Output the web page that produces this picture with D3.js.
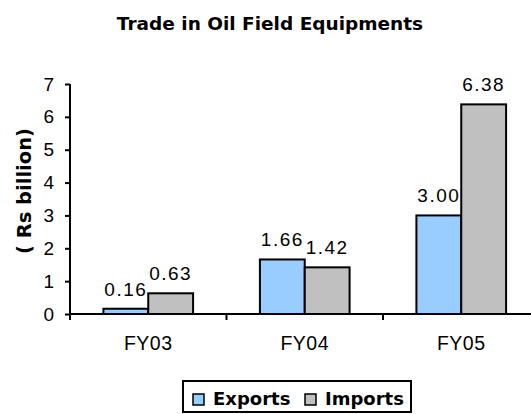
<!DOCTYPE html>
<html>
<head>
<meta charset="utf-8">
<script src="https://cdn.jsdelivr.net/npm/d3@7"></script>
<style>
  html, body { margin: 0; padding: 0; background: #fff; }
  svg { display: block; font-family: "Liberation Sans", Arial, sans-serif; }
</style>
</head>
<body>
<div id="chart"></div>
<script>
/* Trade in Oil Field Equipments — grouped bars, exports vs imports. */

var years = ["FY03", "FY04", "FY05"];
var seriesNames = ["Exports", "Imports"];
var exportsVals = [0.16, 1.66, 3.00];
var importsVals = [0.63, 1.42, 6.38];
var yTicks = [0, 1, 2, 3, 4, 5, 6, 7];

var fills = { Exports: "#99ccff", Imports: "#c0c0c0" };

var width = 531, height = 414;
var margin = { top: 84, left: 70 };
var innerH = 230, bandW = 156.5;

var rows = years.map(function (y, i) {
  return { year: y, Exports: exportsVals[i], Imports: importsVals[i] };
});

var svg = d3.select("#chart").append("svg")
  .attr("width", width).attr("height", height);

svg.append("text")
  .attr("x", 270).attr("y", 30)
  .attr("text-anchor", "middle")
  .attr("font-family", "DejaVu Sans, Verdana, sans-serif")
  .attr("font-size", 18.5).attr("font-weight", "bold")
  .text("Trade in Oil Field Equipments");

var g = svg.append("g").attr("transform", "translate(" + margin.left + "," + margin.top + ")");

var x = d3.scaleBand().domain(years).range([0, bandW * years.length]);
var x1 = d3.scaleBand().domain(seriesNames).range([0, x.bandwidth()]).paddingOuter(0.745);
var y = d3.scaleLinear().domain([0, 7]).range([innerH, 0]);

/* y axis */
var ya = g.append("g")
  .call(d3.axisLeft(y).tickValues(yTicks).tickSize(5).tickPadding(11).tickFormat(d3.format("d")));
ya.select(".domain").attr("stroke", "#000").attr("stroke-width", 2).attr("d", "M0,0V" + innerH);
ya.selectAll(".tick line").attr("stroke", "#000").attr("stroke-width", 2);
ya.selectAll(".tick text").attr("font-size", 19).attr("font-family", "Liberation Sans, Arial, sans-serif").attr("fill", "#000");

/* x axis */
var xa = g.append("g").attr("transform", "translate(0," + innerH + ")")
  .call(d3.axisBottom(x).tickSize(0).tickPadding(22));
xa.select(".domain").attr("stroke", "#000").attr("stroke-width", 2).attr("d", "M0,0H" + (bandW * years.length));
xa.selectAll(".tick text").attr("font-size", 19.5).attr("font-family", "Liberation Sans, Arial, sans-serif")
  .attr("letter-spacing", 0.5).attr("fill", "#000");

/* category separators */
g.append("g").selectAll("line").data(years).join("line")
  .attr("x1", function (d) { return x(d); }).attr("x2", function (d) { return x(d); })
  .attr("y1", innerH).attr("y2", innerH + 6)
  .attr("stroke", "#000").attr("stroke-width", 2);

var grp = g.selectAll(".grp").data(rows).join("g")
  .attr("transform", function (d) { return "translate(" + x(d.year) + ",0)"; });

grp.selectAll("rect").data(function (d) {
  return seriesNames.map(function (k) { return { key: k, value: d[k] }; });
}).join("rect")
  .attr("x", function (d) { return x1(d.key); })
  .attr("y", function (d) { return y(d.value); })
  .attr("width", x1.bandwidth())
  .attr("height", function (d) { return innerH - y(d.value); })
  .attr("fill", function (d) { return fills[d.key]; })
  .attr("stroke", "#000").attr("stroke-width", 2);

grp.selectAll("text.val").data(function (d) {
  return seriesNames.map(function (k) { return { key: k, value: d[k] }; });
}).join("text")
  .attr("class", "val")
  .attr("x", function (d) { return x1(d.key) + x1.bandwidth() / 2; })
  .attr("y", function (d) { return y(d.value) - 13; })
  .attr("text-anchor", "middle")
  .attr("font-size", 19).attr("letter-spacing", 1.5)
  .text(function (d) { return d.value.toFixed(2); });

/* y axis title */
svg.append("text")
  .attr("transform", "translate(31," + 191 + ") rotate(-90)")
  .attr("text-anchor", "middle")
  .attr("font-family", "DejaVu Sans, Verdana, sans-serif")
  .attr("font-size", 19.5).attr("font-weight", "bold")
  .text("( Rs billion)");

/* legend */
var lg = svg.append("g").attr("transform", "translate(183,381)");
lg.append("rect").attr("width", 228).attr("height", 31)
  .attr("fill", "#fff").attr("stroke", "#000").attr("stroke-width", 2);
var items = lg.selectAll(".item").data(seriesNames).join("g")
  .attr("transform", function (d, i) { return "translate(" + (10 + i * 112) + ",13)"; });
items.append("rect").attr("width", 11).attr("height", 11)
  .attr("fill", function (d) { return fills[d]; })
  .attr("stroke", "#000").attr("stroke-width", 1.5);
items.append("text").attr("x", 20).attr("y", 11)
  .attr("font-family", "DejaVu Sans, Verdana, sans-serif")
  .attr("font-size", 18).attr("font-weight", "bold")
  .text(function (d) { return d; });
</script>
</body>
</html>
